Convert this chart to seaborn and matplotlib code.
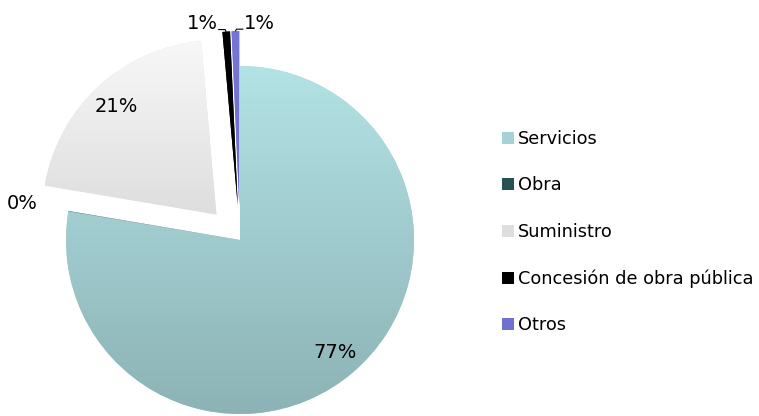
import matplotlib
matplotlib.use("Agg")
import matplotlib.pyplot as plt
from matplotlib.colors import LinearSegmentedColormap
import seaborn as sns
import numpy as np

categories = ["Servicios", "Obra", "Suministro", "Concesión de obra pública", "Otros"]
values = [77.5, 0.02, 20.9, 0.7, 0.7]
pct_labels = ["77%", "0%", "21%", "1%", "1%"]
colors = ["#a5d2d6", "#275252", "#dedede", "#000000", "#7070d0"]
grad_top = ["#b3e3e6", "#2e5c5c", "#f8f8f8", "#000000", "#7676d8"]
grad_bot = ["#8cb2b5", "#1f4444", "#c4c4c4", "#000000", "#6666c4"]
explode = [0.0, 0.0, 0.2, 0.2, 0.2]

sns.set_theme(style="white")
plt.rcParams['font.family'] = ['DejaVu Sans']
plt.rcParams['text.color'] = 'black'

W, H = 759, 416
fig = plt.figure(figsize=(W / 100, H / 100), dpi=100)
ax = fig.add_axes([0, 0, 1, 1])

wedges, _ = ax.pie(values, colors=colors, explode=explode, startangle=90,
                   counterclock=False, radius=1.0,
                   wedgeprops=dict(linewidth=0))

# vertical gradient fill clipped to each wedge
grad = np.linspace(0, 1, 256).reshape(-1, 1)
for i, w in enumerate(wedges):
    cmap = LinearSegmentedColormap.from_list(f"g{i}", [grad_top[i], grad_bot[i]])
    cx0, cy0 = w.center
    im = ax.imshow(grad, cmap=cmap, aspect='auto', origin='upper',
                   extent=(cx0 - 1.02, cx0 + 1.02, cy0 - 1.02, cy0 + 1.02),
                   zorder=w.get_zorder(), interpolation='bilinear')
    im.set_clip_path(w)

cx, cy, R = 240.0, 240.0, 174.0
ax.set_xlim(-cx / R, (W - cx) / R)
ax.set_ylim(-(H - cy) / R, cy / R)
ax.set_aspect('auto')
ax.axis('off')

pct_fs = 14
for w, lab, v in zip(wedges, pct_labels, values):
    th = np.deg2rad((w.theta1 + w.theta2) / 2)
    c = np.array(w.center)
    if v >= 5:
        p = c + 0.845 * np.array([np.cos(th), np.sin(th)])
        ax.text(p[0], p[1], lab, ha='center', va='center', fontsize=pct_fs, color='black', zorder=5)
    elif v < 0.5:
        p = c + 1.27 * np.array([np.cos(th), np.sin(th)])
        ax.text(p[0], p[1], lab, ha='center', va='center', fontsize=pct_fs, color='black', zorder=5)

# small slices with leader lines
small = [(3, -1), (4, 1)]
for idx, side in small:
    w = wedges[idx]
    th = np.deg2rad((w.theta1 + w.theta2) / 2)
    c = np.array(w.center)
    tip = c + 1.0 * np.array([np.cos(th), np.sin(th)])
    elbow = tip + np.array([side * 0.006, 0.012])
    end = elbow + np.array([side * 0.04, 0.0])
    ax.plot([tip[0], elbow[0], end[0]], [tip[1], elbow[1], end[1]],
            color='black', lw=0.8, solid_capstyle='butt', zorder=5)
    ax.text(end[0] + side * 0.003, end[1] + 0.035, pct_labels[idx],
            ha='left' if side > 0 else 'right', va='center', fontsize=pct_fs,
            color='black', zorder=5)

fs = 12.8
leg = fig.legend(wedges, categories, loc='upper left',
                 bbox_to_anchor=(502 / W, 1 - 130 / H),
                 frameon=False, fontsize=fs, handlelength=0.65, handleheight=0.65,
                 handletextpad=0.25, labelspacing=1.6, borderpad=0, borderaxespad=0)
for t in leg.get_texts():
    t.set_color('black')

fig.savefig("out.png", dpi=100)
